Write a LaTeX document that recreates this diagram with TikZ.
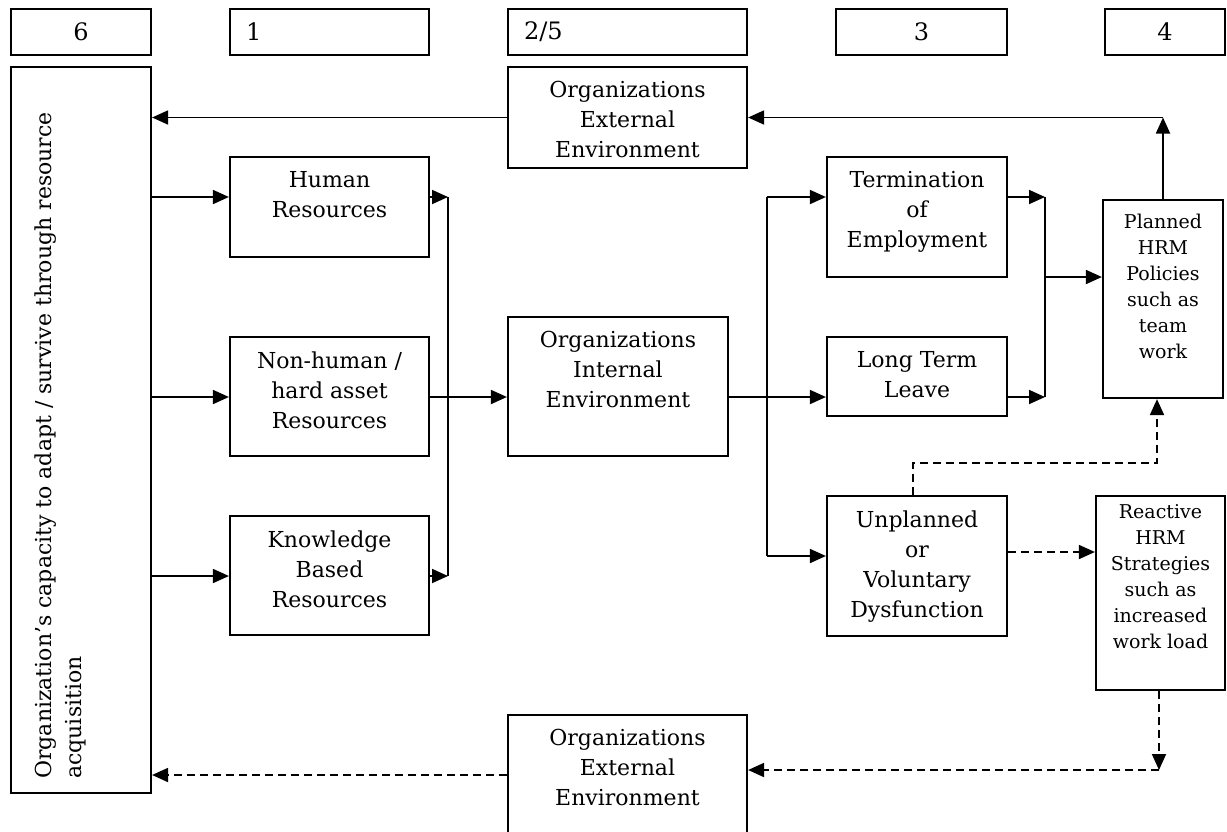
\documentclass[tikz,border=0pt]{standalone}
\usepackage{fontspec}
\setmainfont{DejaVu Serif}
\usetikzlibrary{arrows.meta}
\newcommand{\mainfs}{\fontsize{11}{15}\selectfont}
\newcommand{\hdfs}{\fontsize{12}{14}\selectfont}
\newcommand{\smallfs}{\fontsize{9.5}{13}\selectfont}
\tikzset{
  box/.style={draw, line width=1.1pt, inner sep=0pt},
  hd/.style={box, minimum height=23pt, font=\hdfs},
  hdl/.style={hd, align=left},
  txt/.style={anchor=north, align=center, font=\mainfs, inner sep=7.5pt},
  stxt/.style={anchor=north, align=center, font=\smallfs, inner sep=7.5pt},
  captxt/.style={rotate=90, anchor=north west, align=left, font=\mainfs, inner xsep=7.5pt, inner ysep=12pt},
  ln/.style={line width=0.9pt},
  arr/.style={ln, -{Triangle[length=8pt,width=7pt]}},
  dsharr/.style={arr, dash pattern=on 4pt off 2.5pt}
}
\begin{document}
\begin{tikzpicture}[x=0.5pt, y=-0.5pt]
\useasboundingbox (0,0) rectangle (1227,831);
% column numbers
\node[hd, minimum width=70pt] (h6) at (81,32) {6};
\node[hdl, minimum width=99.5pt, text width=83.5pt] (h1) at (329.5,32) {1};
\node[hdl, minimum width=119.5pt, text width=103.5pt] (h25) at (627.5,32) {2/5};
\node[hd, minimum width=85.5pt] (h3) at (921.5,32) {3};
\node[hd, minimum width=60pt] (h4) at (1165,32) {4};
% boxes
\node[box, minimum width=70pt, minimum height=363pt] (cap) at (81,430) {};
\node[captxt] (captxt) at (cap.south west) {Organization’s capacity to adapt / survive through resource\\acquisition};
\node[box, minimum width=119.5pt, minimum height=50.5pt, label={[txt]north:Organizations\\External\\Environment}] (ext1) at (627.5,117.5) {};
\node[box, minimum width=99.5pt, minimum height=50pt, label={[txt]north:Human\\Resources}] (hr) at (329.5,207) {};
\node[box, minimum width=99.5pt, minimum height=59.5pt, label={[txt]north:Non-human /\\hard asset\\Resources}] (nh) at (329.5,396.5) {};
\node[box, minimum width=99.5pt, minimum height=59.5pt, label={[txt]north:Knowledge\\Based\\Resources}] (kb) at (329.5,575.5) {};
\node[box, minimum width=110pt, minimum height=69.5pt, label={[txt]north:Organizations\\Internal\\Environment}] (ie) at (618,386.5) {};
\node[box, minimum width=119.5pt, minimum height=62.5pt, label={[txt]north:Organizations\\External\\Environment}] (ext2) at (627.5,777.5) {};
\node[box, minimum width=90pt, minimum height=60pt, label={[txt]north:Termination\\of\\Employment}] (term) at (917,217) {};
\node[box, minimum width=90pt, minimum height=39.5pt, label={[txt]north:Long Term\\Leave}] (ltl) at (917,376.5) {};
\node[box, minimum width=90pt, minimum height=70pt, label={[txt]north:Unplanned\\or\\Voluntary\\Dysfunction}] (unpl) at (917,566) {};
\node[box, minimum width=60pt, minimum height=99pt, label={[stxt]north:Planned\\HRM\\Policies\\such as\\team\\work}] (plan) at (1163,299) {};
\node[box, minimum width=64.5pt, minimum height=97pt, label={[stxt, inner sep=4.5pt]north:Reactive\\HRM\\Strategies\\such as\\increased\\work load}] (react) at (1160.5,593) {};
% junctions
\coordinate (c1) at (plan.north |- ext1.east);
\coordinate (jA) at (448,197);
\coordinate (jB) at (448,576);
\coordinate (rB) at (0,397);
\coordinate (sA) at (767,197);
\coordinate (sB) at (767,556);
\coordinate (mA) at (1045,197);
\coordinate (mB) at (1045,397);
\coordinate (mC) at (1045,277);
\coordinate (dA) at (913,463);
\coordinate (dB) at (1157,463);
\coordinate (rE) at (0,552);
\coordinate (dC) at (1159,770);
\coordinate (rX) at (0,775);
% solid connectors
\draw[arr] (ext1.west) -- (ext1.west -| cap.east);
\draw[arr] (plan.north) -- (c1);
\draw[arr] (c1) -- (ext1.east);
\draw[arr] (cap.east |- jA) -- (hr.west |- jA);
\draw[arr] (cap.east |- rB) -- (nh.west |- rB);
\draw[arr] (cap.east |- jB) -- (kb.west |- jB);
\draw[arr] (hr.east |- jA) -- (jA);
\draw[arr] (kb.east |- jB) -- (jB);
\draw[ln] (jA) -- (jB);
\draw[arr] (nh.east |- rB) -- (ie.west |- rB);
\draw[arr] (ie.east |- rB) -- (ltl.west |- rB);
\draw[ln] (sA) -- (sB);
\draw[arr] (sA) -- (term.west |- sA);
\draw[arr] (sB) -- (unpl.west |- sB);
\draw[arr] (term.east |- mA) -- (mA);
\draw[arr] (ltl.east |- mB) -- (mB);
\draw[ln] (mA) -- (mB);
\draw[arr] (mC) -- (plan.west |- mC);
% dashed connectors
\draw[dsharr] (unpl.north -| dA) -- (dA) -- (dB) -- (plan.south -| dB);
\draw[dsharr] (unpl.east |- rE) -- (react.west |- rE);
\draw[dsharr] (react.south -| dC) -- (dC);
\draw[dsharr] (dC) -- (ext2.east |- dC);
\draw[dsharr] (ext2.west |- rX) -- (cap.east |- rX);
\end{tikzpicture}
\end{document}
